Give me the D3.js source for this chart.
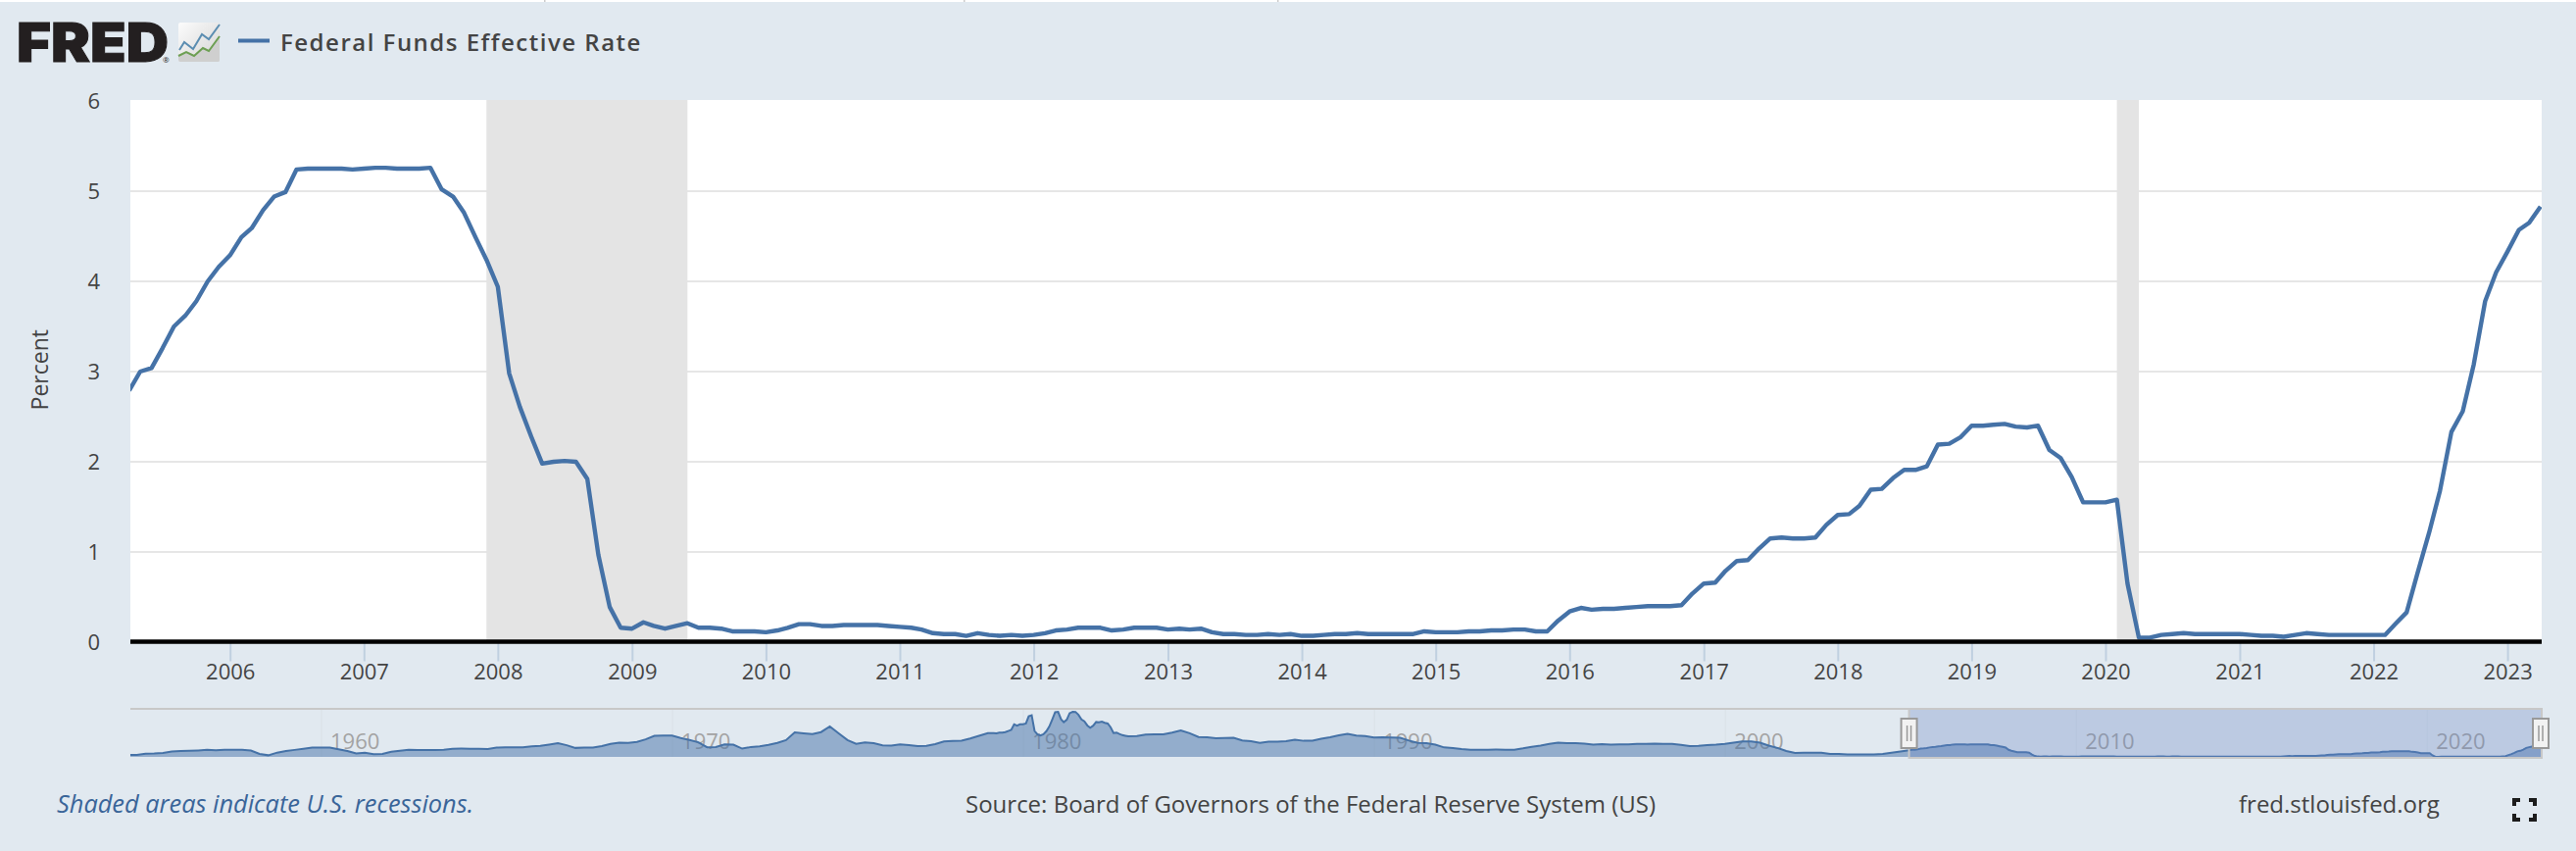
<!DOCTYPE html>
<html>
<head>
<meta charset="utf-8">
<script src="https://cdn.jsdelivr.net/npm/d3@7"></script>
<style>
  html, body { margin: 0; padding: 0; background: #e1e9f0; }
  svg { display: block; }
  text { font-family: "Open Sans", sans-serif; fill: #444; }
</style>
</head>
<body>
<div id="chart"></div>
<script>
// Monthly effective rate, Apr 2005 - Apr 2023 (percent)
const rateStart = "2005-04-01";
const rates = [
  2.79, 3.0, 3.04, 3.26, 3.5, 3.62, 3.78, 4.0, 4.16,
  4.29, 4.49, 4.59, 4.79, 4.94, 4.99, 5.24, 5.25, 5.25, 5.25, 5.25, 5.24,
  5.25, 5.26, 5.26, 5.25, 5.25, 5.25, 5.26, 5.02, 4.94, 4.76, 4.49, 4.24,
  3.94, 2.98, 2.61, 2.28, 1.98, 2.0, 2.01, 2.0, 1.81, 0.97, 0.39, 0.16,
  0.15, 0.22, 0.18, 0.15, 0.18, 0.21, 0.16, 0.16, 0.15, 0.12, 0.12, 0.12,
  0.11, 0.13, 0.16, 0.2, 0.2, 0.18, 0.18, 0.19, 0.19, 0.19, 0.19, 0.18,
  0.17, 0.16, 0.14, 0.1, 0.09, 0.09, 0.07, 0.1, 0.08, 0.07, 0.08, 0.07,
  0.08, 0.1, 0.13, 0.14, 0.16, 0.16, 0.16, 0.13, 0.14, 0.16, 0.16, 0.16,
  0.14, 0.15, 0.14, 0.15, 0.11, 0.09, 0.09, 0.08, 0.08, 0.09, 0.08, 0.09,
  0.07, 0.07, 0.08, 0.09, 0.09, 0.1, 0.09, 0.09, 0.09, 0.09, 0.09, 0.12,
  0.11, 0.11, 0.11, 0.12, 0.12, 0.13, 0.13, 0.14, 0.14, 0.12, 0.12, 0.24,
  0.34, 0.38, 0.36, 0.37, 0.37, 0.38, 0.39, 0.4, 0.4, 0.4, 0.41, 0.54,
  0.65, 0.66, 0.79, 0.9, 0.91, 1.04, 1.15, 1.16, 1.15, 1.15, 1.16, 1.3,
  1.41, 1.42, 1.51, 1.69, 1.7, 1.82, 1.91, 1.91, 1.95, 2.19, 2.2, 2.27,
  2.4, 2.4, 2.41, 2.42, 2.39, 2.38, 2.4, 2.13, 2.04, 1.83, 1.55, 1.55,
  1.55, 1.58, 0.65, 0.05, 0.05, 0.08, 0.09, 0.1, 0.09, 0.09, 0.09, 0.09,
  0.09, 0.08, 0.07, 0.07, 0.06, 0.08, 0.1, 0.09, 0.08, 0.08, 0.08, 0.08,
  0.08, 0.08, 0.2, 0.33, 0.77, 1.21, 1.68, 2.33, 2.56, 3.08, 3.78, 4.1,
  4.33, 4.57, 4.65, 4.83,
];

// Navigator history, quarterly Jul 1954 - Oct 1978
const earlyStart = "1954-07-01";
const earlyHistory = [
  0.8, 0.85,
  1.39, 1.43, 1.68, 2.24,
  2.45, 2.62, 2.75, 2.96,
  2.84, 3.06, 3.0, 2.96,
  2.72, 1.26, 0.68, 1.8,
  2.48, 2.96, 3.47, 3.98,
  3.99, 3.92, 3.23, 2.47,
  1.45, 1.73, 1.14, 1.29,
  2.15, 2.56, 3.0, 2.9,
  2.92, 2.9, 3.02, 3.45,
  3.48, 3.47, 3.42, 3.36,
  3.9, 4.08, 4.1, 4.07,
  4.42, 4.65, 5.17, 5.76,
  4.94, 3.79, 3.98, 3.9,
  4.6, 5.5, 6.0, 5.9,
  6.3, 7.4, 8.9, 9.0,
  8.98, 8.0, 7.2, 6.2,
  4.1, 4.2, 5.3, 5.2,
  3.5, 4.2, 4.5, 5.1,
  5.9, 7.1, 10.4, 10.0,
  9.65, 10.5, 12.9, 10.0,
  7.1, 5.5, 6.1, 5.8,
  4.9, 4.8, 5.3, 5.0,
  4.6, 4.7, 5.4, 6.5,
  6.7, 6.9, 7.8, 8.9,
];

// Monthly Jan 1979 - Dec 1982, the spiky stretch of the strip
const peakStart = "1979-01-01";
const peakHistory = [
  10.07, 10.06, 10.09, 10.01, 10.24, 10.29, 10.47, 10.94, 11.43, 13.77, 13.18, 13.78,
  13.82, 14.13, 17.19, 17.61, 10.98, 9.47, 9.03, 9.61, 10.87, 12.81, 15.85, 18.9,
  19.08, 15.93, 14.7, 15.72, 18.52, 19.1, 19.04, 17.82, 15.87, 15.08, 13.31, 12.37,
  13.22, 14.78, 14.68, 14.94, 14.45, 14.15, 12.59, 10.12, 10.31, 9.71, 9.2, 8.95,
];

// Quarterly again, Jan 1983 - Jan 2005
const lateStart = "1983-01-01";
const lateHistory = [
  8.7, 8.8, 9.4, 9.5,
  9.6, 10.3, 11.2, 10.0,
  8.4, 8.3, 7.9, 8.0,
  8.1, 7.0, 6.6, 5.9,
  6.4, 6.4, 6.6, 7.3,
  6.8, 6.9, 7.7, 8.3,
  9.1, 9.8, 9.0, 8.8,
  8.2, 8.3, 8.2, 8.1,
  6.9, 5.9, 5.8, 5.2,
  4.0, 3.7, 3.3, 3.0,
  3.0, 3.0, 3.1, 3.0,
  3.0, 3.6, 4.3, 4.8,
  5.5, 6.0, 5.8, 5.8,
  5.6, 5.2, 5.4, 5.2,
  5.3, 5.3, 5.5, 5.5,
  5.6, 5.5, 5.5, 5.1,
  4.6, 4.7, 5.0, 5.2,
  5.5, 6.0, 6.5, 6.5,
  6.0, 4.8, 3.8, 2.5,
  1.7, 1.75, 1.73, 1.75,
  1.24, 1.26, 1.0, 1.0,
  1.0, 1.0, 1.26, 1.76,
  2.28,
];

const recessions = [
  ["2007-12-01", "2009-06-01"],
  ["2020-02-01", "2020-04-01"],
];
const yTicks = [0, 1, 2, 3, 4, 5, 6];
const xTickYears = [2006, 2007, 2008, 2009, 2010, 2011, 2012, 2013, 2014, 2015, 2016, 2017, 2018, 2019, 2020, 2021, 2022, 2023];
const navTickYears = [1960, 1970, 1980, 1990, 2000, 2010, 2020];
const selectedRange = ["2005-04-01", "2023-04-01"];

function draw() {
  const dimensions = {
    width: 2628,
    height: 868,
    plot: { left: 133, right: 2593, top: 102, bottom: 654.5 },
    nav: { top: 723, bottom: 772 },
  };

  const parse = d3.utcParse("%Y-%m-%d");
  const toYear = (y) => new Date(Date.UTC(y, 0, 1));
  const series = (values, start, step) =>
    values.map((v, i) => ({ date: d3.utcMonth.offset(parse(start), i * step), value: v }));

  // Build the dated series
  const rateData = series(rates, rateStart, 1);
  const navData = [
    ...series(earlyHistory, earlyStart, 3),
    ...series(peakHistory, peakStart, 1),
    ...series(lateHistory, lateStart, 3),
    ...rateData,
  ];

  const xAccessor = (d) => d.date;
  const yAccessor = (d) => d.value;

  const svg = d3
    .select("#chart")
    .append("svg")
    .attr("width", dimensions.width)
    .attr("height", dimensions.height);

  svg.append("rect").attr("width", dimensions.width).attr("height", dimensions.height).attr("fill", "#e1e9f0");

  const defs = svg.append("defs");
  defs
    .append("clipPath")
    .attr("id", "plot-clip")
    .append("rect")
    .attr("x", dimensions.plot.left)
    .attr("y", 0)
    .attr("width", dimensions.plot.right - dimensions.plot.left)
    .attr("height", dimensions.height);

  // Scales
  const xScale = d3
    .scaleUtc()
    .domain(d3.extent(rateData, xAccessor))
    .range([dimensions.plot.left - 1.2, dimensions.plot.right - 1.2]);
  const yScale = d3.scaleLinear().domain([0, 6]).range([655, 103]);
  const navX = d3
    .scaleUtc()
    .domain(d3.extent(navData, xAccessor))
    .range([dimensions.plot.left - 2.5, dimensions.plot.right - 1]);
  const navY = d3
    .scaleLinear()
    .domain([0, 19.1])
    .range([dimensions.nav.bottom, dimensions.nav.top + 3]);

  // Plot background
  svg
    .append("rect")
    .attr("x", dimensions.plot.left)
    .attr("y", dimensions.plot.top)
    .attr("width", dimensions.plot.right - dimensions.plot.left)
    .attr("height", dimensions.plot.bottom - dimensions.plot.top)
    .attr("fill", "#fff");

  // Y axis + grid
  const yAxis = d3
    .axisLeft(yScale)
    .tickValues(yTicks)
    .tickFormat(d3.format("d"))
    .tickSize(0)
    .tickPadding(0);
  const yAxisGroup = svg
    .append("g")
    .attr("transform", `translate(${dimensions.plot.left - 31}, 0)`)
    .call(yAxis);
  yAxisGroup.select(".domain").remove();
  yAxisGroup.selectAll("text").style("font-size", "22px").style("font-family", '"Open Sans"');

  svg
    .append("g")
    .selectAll("line")
    .data(yTicks.filter((d) => d > 0 && d < 6))
    .join("line")
    .attr("x1", dimensions.plot.left)
    .attr("x2", dimensions.plot.right)
    .attr("y1", yScale)
    .attr("y2", yScale)
    .attr("stroke", "#e6e6e6")
    .attr("stroke-width", 2);

  // Recession bands
  svg
    .append("g")
    .selectAll("rect")
    .data(recessions)
    .join("rect")
    .attr("x", (d) => xScale(parse(d[0])))
    .attr("width", (d) => xScale(parse(d[1])) - xScale(parse(d[0])))
    .attr("y", dimensions.plot.top)
    .attr("height", dimensions.plot.bottom - dimensions.plot.top)
    .attr("fill", "#e4e4e4");

  // Main line
  const line = d3
    .line()
    .x((d) => xScale(xAccessor(d)))
    .y((d) => yScale(yAccessor(d)));
  svg
    .append("path")
    .datum(rateData)
    .attr("d", line)
    .attr("clip-path", "url(#plot-clip)")
    .attr("fill", "none")
    .attr("stroke", "#4572a7")
    .attr("stroke-width", 4.4)
    .attr("stroke-linejoin", "round");

  // X axis
  const xAxis = d3
    .axisBottom(xScale)
    .tickValues(xTickYears.map(toYear))
    .tickFormat(d3.utcFormat("%Y"))
    .tickSize(20)
    .tickPadding(3);
  const xAxisGroup = svg
    .append("g")
    .attr("transform", `translate(0, ${dimensions.plot.bottom})`)
    .call(xAxis);
  xAxisGroup.select(".domain").remove();
  xAxisGroup.selectAll("line").attr("stroke", "#c0d0e0").attr("stroke-width", 2);
  xAxisGroup.selectAll("text").style("font-size", "22px").style("font-family", '"Open Sans"');

  // Zero line
  svg
    .append("line")
    .attr("x1", dimensions.plot.left)
    .attr("x2", dimensions.plot.right)
    .attr("y1", dimensions.plot.bottom)
    .attr("y2", dimensions.plot.bottom)
    .attr("stroke", "#000")
    .attr("stroke-width", 4.5);

  svg
    .append("text")
    .attr("transform", `translate(49, ${(dimensions.plot.top + dimensions.plot.bottom) / 2 - 1}) rotate(-90)`)
    .attr("text-anchor", "middle")
    .style("font-size", "23px")
    .text("Percent");

  // Navigator
  const nav = svg.append("g");
  const navAxis = d3
    .axisBottom(navX)
    .tickValues(navTickYears.map(toYear))
    .tickFormat(d3.utcFormat("%Y"))
    .tickSize(dimensions.nav.bottom - dimensions.nav.top);
  const navAxisGroup = nav
    .append("g")
    .attr("transform", `translate(0, ${dimensions.nav.top})`)
    .call(navAxis);
  navAxisGroup.select(".domain").remove();
  navAxisGroup.selectAll("line").attr("stroke", "#d6dce3").attr("stroke-opacity", 0.6).attr("stroke-width", 1);
  navAxisGroup
    .selectAll("text")
    .attr("x", 9)
    .attr("y", 34)
    .attr("dy", "0.32em")
    .attr("text-anchor", "start")
    .style("font-size", "22px")
    .style("font-family", '"Open Sans"')
    .style("fill", "#a3a3a3");

  const navArea = d3
    .area()
    .x((d) => navX(xAccessor(d)))
    .y0(dimensions.nav.bottom)
    .y1((d) => navY(yAccessor(d)));
  const navLine = d3
    .line()
    .x((d) => navX(xAccessor(d)))
    .y((d) => navY(yAccessor(d)));
  nav
    .append("path")
    .datum(navData)
    .attr("d", navArea)
    .attr("clip-path", "url(#plot-clip)")
    .attr("fill", "#4572a7")
    .attr("fill-opacity", 0.5);
  nav
    .append("path")
    .datum(navData)
    .attr("d", navLine)
    .attr("clip-path", "url(#plot-clip)")
    .attr("fill", "none")
    .attr("stroke", "#4572a7")
    .attr("stroke-width", 2);

  // Selected window of the navigator
  const selX0 = navX(parse(selectedRange[0]));
  const selX1 = navX(parse(selectedRange[1]));
  nav
    .append("rect")
    .attr("x", selX0)
    .attr("y", dimensions.nav.top)
    .attr("width", dimensions.plot.right - selX0)
    .attr("height", dimensions.nav.bottom - dimensions.nav.top)
    .attr("fill", "#6685c2")
    .attr("fill-opacity", 0.3);
  nav
    .append("path")
    .attr(
      "d",
      `M${dimensions.plot.left},${dimensions.nav.top} H${dimensions.plot.right} V${dimensions.nav.bottom + 1} H${selX0} V${dimensions.nav.top}`
    )
    .attr("fill", "none")
    .attr("stroke", "#c8c8c8")
    .attr("stroke-width", 2);

  // Handles
  const handles = nav
    .selectAll("g.handle")
    .data([selX0, selX1])
    .join("g")
    .classed("handle", true)
    .attr("transform", (d) => `translate(${d}, 733)`);
  handles
    .append("rect")
    .attr("x", -8)
    .attr("width", 16)
    .attr("height", 30)
    .attr("fill", "#f2f2f2")
    .attr("stroke", "#999")
    .attr("stroke-width", 2);
  handles
    .selectAll("line")
    .data([-2, 2])
    .join("line")
    .attr("x1", (d) => d)
    .attr("x2", (d) => d)
    .attr("y1", 7)
    .attr("y2", 23)
    .attr("stroke", "#999")
    .attr("stroke-width", 1.5);

  // Header: logo
  const logo = svg.append("g");
  logo
    .append("text")
    .attr("x", 17)
    .attr("y", 63)
    .attr("textLength", 155)
    .attr("lengthAdjust", "spacingAndGlyphs")
    .style("font-family", "Inter, sans-serif")
    .style("font-weight", 900)
    .style("font-size", "55px")
    .style("fill", "#231f20")
    .style("stroke", "#231f20")
    .style("stroke-width", 1)
    .text("FRED");
  logo
    .append("text")
    .attr("x", 166)
    .attr("y", 64)
    .style("font-size", "8px")
    .style("fill", "#231f20")
    .text("®");

  const grad = defs.append("linearGradient").attr("id", "icon-bg").attr("x1", 0).attr("y1", 0).attr("x2", 1).attr("y2", 1);
  grad.append("stop").attr("offset", "0%").attr("stop-color", "#fcfcfc");
  grad.append("stop").attr("offset", "100%").attr("stop-color", "#d4d4d4");
  logo.append("rect").attr("x", 182).attr("y", 23).attr("width", 42).attr("height", 40).attr("rx", 2).attr("fill", "url(#icon-bg)");
  logo
    .append("path")
    .attr("d", "M182,57 L190,53 L198,57 L207,49 L213,52 L224,37 V61 a2,2 0 0 1 -2,2 H184 a2,2 0 0 1 -2,-2 Z")
    .attr("fill", "#cfcfcf");
  logo
    .append("path")
    .attr("d", "M183,51 L188,43 L197,50 L206,35 L213,40 L224,25")
    .attr("fill", "none")
    .attr("stroke", "#5b8db1")
    .attr("stroke-width", 2);
  logo
    .append("path")
    .attr("d", "M182,57 L190,53 L198,57 L207,49 L213,52 L224,37")
    .attr("fill", "none")
    .attr("stroke", "#6d9f53")
    .attr("stroke-width", 2);

  // Legend
  svg.append("line").attr("x1", 243).attr("x2", 275).attr("y1", 41.5).attr("y2", 41.5).attr("stroke", "#4572a7").attr("stroke-width", 4);
  svg
    .append("text")
    .attr("x", 286)
    .attr("y", 52)
    .style("font-size", "24px")
    .style("font-weight", 600)
    .style("letter-spacing", "1.5px")
    .text("Federal Funds Effective Rate");

  // Footer
  svg
    .append("text")
    .attr("x", 58)
    .attr("y", 829)
    .attr("textLength", 425)
    .attr("lengthAdjust", "spacingAndGlyphs")
    .style("font-size", "25px")
    .style("font-style", "italic")
    .style("fill", "#3a6599")
    .text("Shaded areas indicate U.S. recessions.");
  svg
    .append("text")
    .attr("x", 985)
    .attr("y", 829)
    .style("font-size", "24px")
    .text("Source: Board of Governors of the Federal Reserve System (US)");
  svg
    .append("text")
    .attr("x", 2284)
    .attr("y", 829)
    .style("font-size", "24px")
    .text("fred.stlouisfed.org");

  // Fullscreen icon
  const icon = svg.append("g").attr("transform", "translate(2563, 814)").attr("fill", "none").attr("stroke", "#1c1c1c").attr("stroke-width", 4);
  icon.append("path").attr("d", "M2,8 V2 H8 M17,2 H23 V8 M2,16 V22 H8 M17,22 H23 V16");

  // Top strip of the page above the chart
  svg.append("rect").attr("width", dimensions.width).attr("height", 2).attr("fill", "#fff");
  svg
    .append("g")
    .selectAll("rect")
    .data([555, 983, 1303])
    .join("rect")
    .attr("x", (d) => d)
    .attr("width", 1.5)
    .attr("height", 2)
    .attr("fill", "#ccc");
}

draw();
</script>
</body>
</html>
